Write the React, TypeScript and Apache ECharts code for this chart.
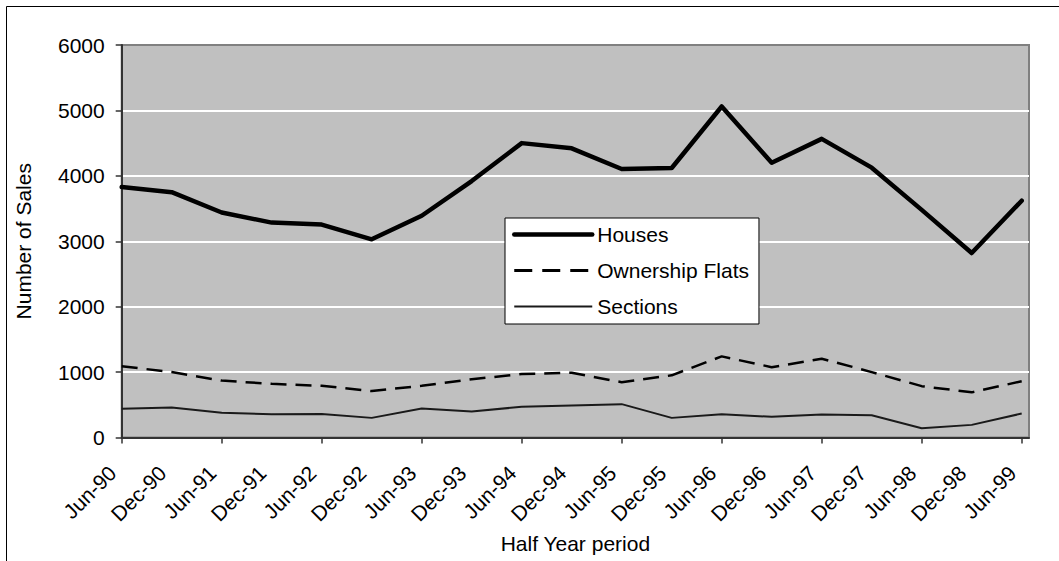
import React, { useEffect, useRef } from "react";
import * as echarts from "echarts";

const categories = [
  "Jun-90", "Dec-90", "Jun-91", "Dec-91", "Jun-92", "Dec-92", "Jun-93", "Dec-93",
  "Jun-94", "Dec-94", "Jun-95", "Dec-95", "Jun-96", "Dec-96", "Jun-97", "Dec-97",
  "Jun-98", "Dec-98", "Jun-99",
];

const houses = [
  3830, 3750, 3440, 3285, 3255, 3030, 3390, 3920, 4500, 4420, 4105, 4120, 5060, 4200,
  4565, 4125, 3480, 2820, 3620,
];

const ownershipFlats = [
  1090, 1000, 870, 820, 790, 710, 790, 890, 970, 990, 845, 950, 1240, 1075, 1205, 1000,
  785, 690, 860,
];

const sections = [
  438, 458, 377, 356, 360, 300, 443, 397, 470, 490, 510, 300, 356, 316, 351, 341, 142,
  193, 366,
];

const yTicks = { min: 0, max: 6000, interval: 1000 };

const seriesNames = ["Houses", "Ownership Flats", "Sections"];

const FONT = "'Liberation Sans', Arial, Helvetica, sans-serif";

export default function App() {
  const ref = useRef<HTMLDivElement>(null);

  useEffect(() => {
    if (!ref.current) return;
    const chart = echarts.init(ref.current, undefined, { renderer: "svg" });
    const option: any = {
      animation: false,
      textStyle: { fontFamily: FONT },
      graphic: [
        {
          type: "rect",
          silent: true,
          z: -100,
          shape: { x: 6.5, y: 6.5, width: 1200, height: 800 },
          style: { fill: "none", stroke: "#000", lineWidth: 1 },
        },
      ],
      grid: [
        {
          left: 121.7,
          right: 30,
          top: 45,
          bottom: 123.5,
          show: true,
          backgroundColor: "#C0C0C0",
          borderColor: "#808080",
          borderWidth: 2,
        },
        { left: 121.7, right: 37.3, top: 45, bottom: 123.5 },
        // label grid, shifted left so rotated labels end just left of each tick
        { left: 112.4, right: 46.6, top: 45, bottom: 123.5 },
      ],
      xAxis: [
        {
          type: "value",
          gridIndex: 0,
          min: 0,
          max: 1,
          axisLine: { show: true, onZero: false, lineStyle: { color: "#333", width: 2 } },
          axisTick: { show: false },
          axisLabel: { show: false },
          splitLine: { show: false },
          name: "Half Year period",
          nameLocation: "middle",
          nameGap: 95,
          nameTextStyle: { fontSize: 21, color: "#000", fontFamily: FONT },
        },
        {
          type: "category",
          gridIndex: 1,
          data: categories,
          boundaryGap: false,
          axisLine: { show: false },
          axisTick: { show: true, length: 6, lineStyle: { color: "#333", width: 1.5 } },
          axisLabel: { show: false },
          splitLine: { show: false },
        },
        {
          type: "category",
          gridIndex: 2,
          data: categories,
          boundaryGap: false,
          axisLine: { show: false },
          axisTick: { show: false },
          axisLabel: {
            rotate: 45,
            interval: 0,
            fontSize: 21,
            color: "#000",
            margin: 32,
            fontFamily: FONT,
          },
          splitLine: { show: false },
        },
      ],
      yAxis: [
        {
          type: "value",
          gridIndex: 0,
          min: yTicks.min,
          max: yTicks.max,
          interval: yTicks.interval,
          axisLine: { show: true, lineStyle: { color: "#333", width: 2 } },
          axisTick: { show: true, length: 6, lineStyle: { color: "#333", width: 1.5 } },
          axisLabel: {
            fontSize: 21,
            color: "#000",
            margin: 17,
            fontFamily: FONT,
            formatter: (v: number) => String(v),
          },
          splitLine: {
            show: true,
            showMinLine: false,
            showMaxLine: false,
            lineStyle: { color: "#fff", width: 2 },
          },
          name: "Number of Sales",
          nameLocation: "middle",
          nameGap: 88,
          nameRotate: 90,
          nameTextStyle: { fontSize: 21, color: "#000", fontFamily: FONT },
        },
        {
          type: "value",
          gridIndex: 1,
          min: yTicks.min,
          max: yTicks.max,
          interval: yTicks.interval,
          show: false,
          splitLine: { show: false },
        },
        {
          type: "value",
          gridIndex: 2,
          min: yTicks.min,
          max: yTicks.max,
          interval: yTicks.interval,
          show: false,
          splitLine: { show: false },
        },
      ],
      legend: {
        orient: "vertical",
        left: 505,
        top: 218,
        padding: [6, 10, 7, 7],
        itemGap: 15,
        itemWidth: 78,
        itemHeight: 14,
        backgroundColor: "#fff",
        borderColor: "#000",
        borderWidth: 1,
        borderRadius: 0,
        selectedMode: false,
        itemStyle: { opacity: 0, color: "rgba(0,0,0,0)", borderWidth: 0 },
        textStyle: { fontSize: 21, color: "#000", fontFamily: FONT },
        data: [
          { name: seriesNames[0], lineStyle: { width: 4.5, color: "#000", type: "solid", cap: "round" } },
          { name: seriesNames[1], lineStyle: { width: 3, color: "#000", type: [18, 10] } },
          { name: seriesNames[2], lineStyle: { width: 2, color: "#1a1a1a", type: "solid" } },
        ],
      },
      series: [
        {
          name: seriesNames[0],
          type: "line",
          xAxisIndex: 1,
          yAxisIndex: 1,
          data: houses,
          symbol: "none",
          color: "#000",
          lineStyle: { color: "#000", width: 4.5, cap: "round", join: "round" },
          z: 5,
        },
        {
          name: seriesNames[1],
          type: "line",
          xAxisIndex: 1,
          yAxisIndex: 1,
          data: ownershipFlats,
          symbol: "none",
          color: "#000",
          lineStyle: { color: "#000", width: 2.5, type: [16, 9] },
          z: 4,
        },
        {
          name: seriesNames[2],
          type: "line",
          xAxisIndex: 1,
          yAxisIndex: 1,
          data: sections,
          symbol: "none",
          color: "#1a1a1a",
          lineStyle: { color: "#1a1a1a", width: 2 },
          z: 3,
        },
      ],
    };
    chart.setOption(option);
    return () => chart.dispose();
  }, []);

  return (
    <div
      ref={ref}
      style={{ position: "absolute", left: 0, top: 0, width: 1059, height: 561 }}
    />
  );
}
